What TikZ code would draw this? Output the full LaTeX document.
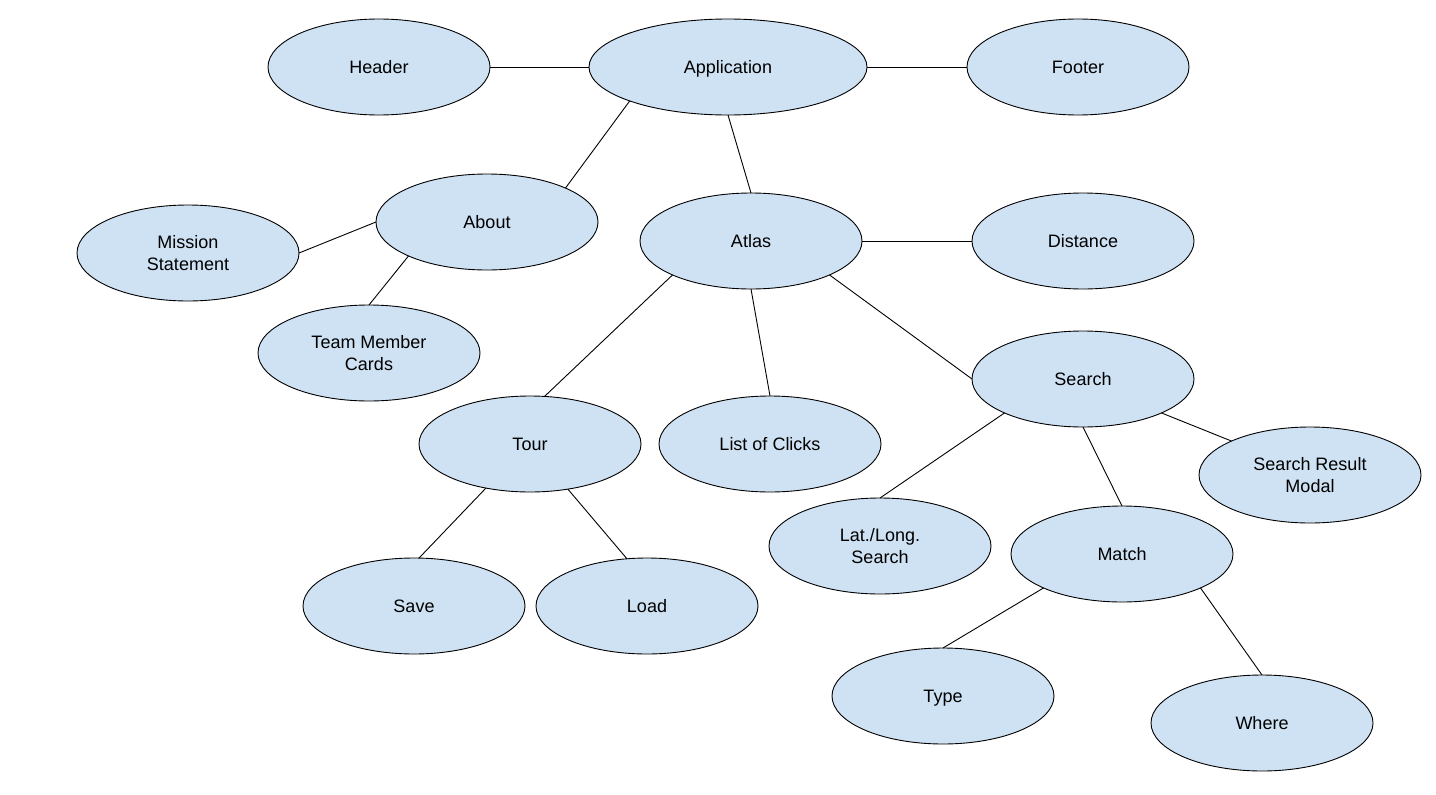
\documentclass[tikz,border=0pt]{standalone}
\usepackage{fontspec}
\setmainfont{Liberation Sans}
\usetikzlibrary{shapes.geometric}
\definecolor{bubblefill}{HTML}{CFE2F3}
\begin{document}
\begin{tikzpicture}[x=1pt,y=-1pt,
  bubble/.style={ellipse,draw=black,line width=0.9pt,fill=bubblefill,
    minimum width=222pt,minimum height=96pt,inner sep=0pt,outer sep=0pt,
    align=center,font=\fontsize{18}{21.5}\selectfont},
  oneline/.style={bubble,text height=16.3pt,text depth=3.8pt},
  wide/.style={minimum width=278pt},
  link/.style={draw=black,line width=0.9pt}]
\fill[white] (0,0) rectangle (1436,795);
\useasboundingbox (0,0) rectangle (1436,795);

% nodes
\node[oneline]      (header)  at (379,67)   {Header};
\node[oneline,wide] (app)     at (728,67)   {Application};
\node[oneline]      (footer)  at (1078,67)  {Footer};
\node[oneline]      (about)   at (487,222)  {About};
\node[bubble]       (mission) at (188,253)  {Mission\\Statement};
\node[oneline]      (atlas)   at (751,241)  {Atlas};
\node[oneline]      (dist)    at (1083,241) {Distance};
\node[bubble]       (team)    at (369,353)  {Team Member\\Cards};
\node[oneline]      (search)  at (1083,379) {Search};
\node[oneline]      (tour)    at (530,444)  {Tour};
\node[oneline]      (clicks)  at (770,444)  {List of Clicks};
\node[bubble]       (modal)   at (1310,475) {Search Result\\Modal};
\node[bubble]       (latlong) at (880,546)  {Lat./Long.\\Search};
\node[oneline]      (match)   at (1122,554) {Match};
\node[oneline]      (save)    at (414,606)  {Save};
\node[oneline]      (load)    at (647,606)  {Load};
\node[oneline]      (type)    at (943,696)  {Type};
\node[oneline]      (where)   at (1262,723) {Where};

% connectors
\draw[link] (header.east) -- (app.west);
\draw[link] (app.east) -- (footer.west);
\draw[link] (app.south west) -- (about.north east);
\draw[link] (app.south) -- (atlas.north);
\draw[link] (about.west) -- (mission.east);
\draw[link] (about.south west) -- (team.north);
\draw[link] (atlas.east) -- (dist.west);
\draw[link] (atlas.south west) -- (tour.73);
\draw[link] (atlas.south) -- (clicks.north);
\draw[link] (atlas.south east) -- (search.west);
\draw[link] (search.south east) -- (modal.north west);
\draw[link] (search.south west) -- (latlong.north);
\draw[link] (search.south) -- (match.north);
\draw[link] (tour.225) -- (save.84);
\draw[link] (tour.310) -- (load.113);
\draw[link] (match.south west) -- (type.north);
\draw[link] (match.south east) -- (where.north);
\end{tikzpicture}
\end{document}
